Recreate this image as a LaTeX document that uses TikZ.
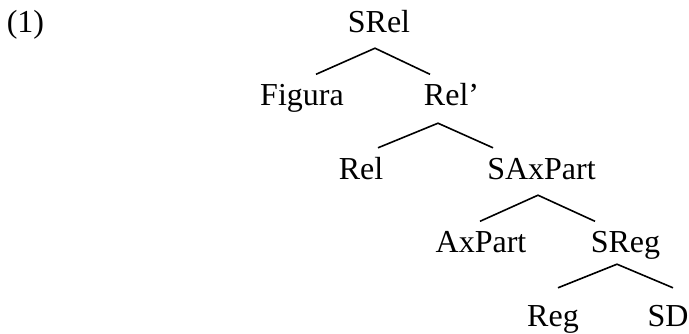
\documentclass[tikz,border=0pt]{standalone}
\usepackage{fontspec}
\setmainfont{Liberation Serif}

\begin{document}
\begin{tikzpicture}[x=1pt, y=-1pt,
        every node/.style={font=\fontsize{32}{38}\selectfont, anchor=base,
            inner xsep=0pt, inner ysep=9pt, text height=22pt, text depth=7pt},
        branch/.style={line width=1.6pt}]
        \useasboundingbox (0,0) rectangle (689,333);

        \node (num) at (25.5,32) {(1)};
        \node (srel) at (379,32) {SRel};
        \node (figura) at (302,105.5) {Figura};
        \node (relbar) at (451.5,105.5) {Rel’};
        \node (rel) at (361,179) {Rel};
        \node (saxpart) at (541.5,179) {SAxPart};
        \node (axpart) at (481,252.5) {AxPart};
        \node (sreg) at (625.5,252.5) {SReg};
        \node (reg) at (553,326) {Reg};
        \node (sd) at (668,326) {SD};

        \draw[branch] ([xshift=14pt]figura.north) -- ([xshift=-4pt]srel.south) -- ([xshift=-21.5pt]relbar.north);
        \draw[branch] ([xshift=17pt]rel.north) -- ([xshift=-13.5pt, yshift=-1.5pt]relbar.south) -- ([xshift=-48.5pt]saxpart.north);
        \draw[branch] ([xshift=-1pt]axpart.north) -- ([xshift=-3.5pt]saxpart.south) -- ([xshift=-30.5pt]sreg.north);
        \draw[branch] ([xshift=5pt, yshift=7pt]reg.north) -- ([xshift=-8.5pt, yshift=4.5pt]sreg.south) -- ([xshift=5pt, yshift=7pt]sd.north);
\end{tikzpicture}
\end{document}
